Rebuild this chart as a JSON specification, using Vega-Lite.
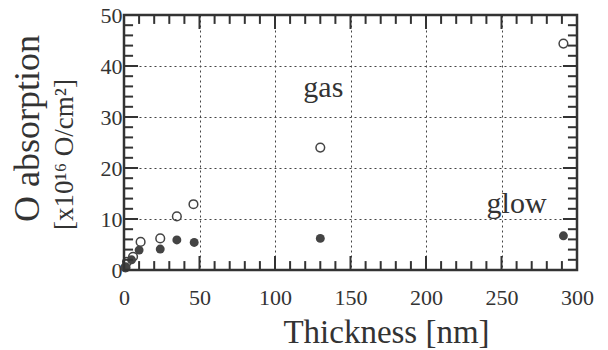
{
  "$schema": "https://vega.github.io/schema/vega-lite/v6.json",
  "width": 453,
  "height": 255,
  "autosize": "none",
  "padding": {"left": 124, "top": 15, "right": 31, "bottom": 80},
  "background": "white",
  "config": {
    "view": {"stroke": null},
    "font": "Liberation Serif",
    "axis": {
      "labelFont": "Liberation Serif",
      "titleFont": "Liberation Serif",
      "labelColor": "#333",
      "titleColor": "#333",
      "domain": false,
      "labelFlush": false,
      "labelOverlap": false,
      "titleFontWeight": "normal",
      "gridColor": "#444",
      "gridDash": [2, 3],
      "gridWidth": 1,
      "gridOpacity": 1
    }
  },
  "datasets": {
    "gas": [
      {"t": 1, "o": 0.5},
      {"t": 2, "o": 1.6},
      {"t": 6, "o": 2.6},
      {"t": 11, "o": 5.5},
      {"t": 24, "o": 6.2},
      {"t": 35, "o": 10.5},
      {"t": 46, "o": 12.9},
      {"t": 130, "o": 24.0},
      {"t": 291, "o": 44.4}
    ],
    "glow": [
      {"t": 1, "o": 0.5},
      {"t": 5, "o": 2.0},
      {"t": 10, "o": 3.9},
      {"t": 24, "o": 4.1},
      {"t": 35, "o": 5.9},
      {"t": 46.5, "o": 5.4},
      {"t": 130, "o": 6.2},
      {"t": 291, "o": 6.7}
    ],
    "labels": [
      {"t": 132, "o": 33.9, "label": "gas"},
      {"t": 260, "o": 11.2, "label": "glow"}
    ],
    "frame": [
      {"x1": 0, "x2": 300, "y1": 0, "y2": 50}
    ],
    "xmajor": [{"v": 0}, {"v": 50}, {"v": 100}, {"v": 150}, {"v": 200}, {"v": 250}, {"v": 300}],
    "xminor": [
      {"v": 10}, {"v": 20}, {"v": 30}, {"v": 40}, {"v": 60}, {"v": 70}, {"v": 80}, {"v": 90},
      {"v": 110}, {"v": 120}, {"v": 130}, {"v": 140}, {"v": 160}, {"v": 170}, {"v": 180}, {"v": 190},
      {"v": 210}, {"v": 220}, {"v": 230}, {"v": 240}, {"v": 260}, {"v": 270}, {"v": 280}, {"v": 290}
    ],
    "ymajor": [{"v": 0}, {"v": 10}, {"v": 20}, {"v": 30}, {"v": 40}, {"v": 50}],
    "yminor": [
      {"v": 2}, {"v": 4}, {"v": 6}, {"v": 8}, {"v": 12}, {"v": 14}, {"v": 16}, {"v": 18},
      {"v": 22}, {"v": 24}, {"v": 26}, {"v": 28}, {"v": 32}, {"v": 34}, {"v": 36}, {"v": 38},
      {"v": 42}, {"v": 44}, {"v": 46}, {"v": 48}
    ]
  },
  "resolve": {"axis": {"x": "independent", "y": "independent"}},
  "layer": [
    {
      "data": {"name": "gas"},
      "mark": {"type": "point", "shape": "circle", "filled": false, "stroke": "#444", "strokeWidth": 1.5, "size": 75, "opacity": 1},
      "encoding": {
        "x": {
          "field": "t", "type": "quantitative",
          "scale": {"domain": [0, 300], "nice": false, "zero": false},
          "axis": {
            "orient": "bottom",
            "values": [0, 50, 100, 150, 200, 250, 300],
            "ticks": false,
            "tickSize": 0,
            "labelFontSize": 22,
            "labelBaseline": "alphabetic",
            "labelPadding": 34,
            "grid": true,
            "title": "Thickness [nm]",
            "titleFontSize": 33,
            "titleX": 262,
            "titleY": 72,
            "titleAlign": "center",
            "titleBaseline": "alphabetic"
          }
        },
        "y": {
          "field": "o", "type": "quantitative",
          "scale": {"domain": [0, 50], "nice": false, "zero": false},
          "axis": {
            "orient": "left",
            "values": [0, 10, 20, 30, 40, 50],
            "ticks": false,
            "tickSize": 0,
            "labelFontSize": 22,
            "labelPadding": 2,
            "grid": true,
            "title": "O absorption",
            "titleFontSize": 36,
            "titleAngle": 270,
            "titleX": -97,
            "titleY": 113,
            "titleAlign": "center",
            "titleBaseline": "middle"
          }
        }
      }
    },
    {
      "data": {"name": "glow"},
      "mark": {"type": "point", "shape": "circle", "filled": true, "fill": "#444", "size": 80, "opacity": 1},
      "encoding": {
        "x": {"field": "t", "type": "quantitative", "axis": null},
        "y": {
          "field": "o", "type": "quantitative",
          "axis": {
            "orient": "left",
            "values": [0, 10, 20, 30, 40, 50],
            "ticks": false,
            "tickSize": 0,
            "labels": false,
            "grid": false,
            "title": "[x10¹⁶ O/cm²]",
            "titleFontSize": 27,
            "titleAngle": 270,
            "titleX": -60,
            "titleY": 139,
            "titleAlign": "center",
            "titleBaseline": "middle"
          }
        }
      }
    },
    {
      "data": {"name": "labels"},
      "mark": {"type": "text", "font": "Liberation Serif", "fontSize": 30, "fill": "#333", "align": "center", "baseline": "alphabetic"},
      "encoding": {
        "x": {"field": "t", "type": "quantitative", "axis": null},
        "y": {"field": "o", "type": "quantitative", "axis": null},
        "text": {"field": "label"}
      }
    },
    {
      "data": {"name": "frame"},
      "mark": {"type": "rect", "fill": null, "fillOpacity": 0, "stroke": "#333", "strokeWidth": 2.5},
      "encoding": {
        "x": {"field": "x1", "type": "quantitative", "axis": null},
        "x2": {"field": "x2"},
        "y": {"field": "y1", "type": "quantitative", "axis": null},
        "y2": {"field": "y2"}
      }
    },
    {
      "data": {"name": "xmajor"},
      "mark": {"type": "rule", "color": "#333", "strokeWidth": 2},
      "encoding": {
        "x": {"field": "v", "type": "quantitative", "axis": null},
        "y": {"datum": 0, "type": "quantitative", "axis": null},
        "y2": {"datum": 2.75}
      }
    },
    {
      "data": {"name": "xmajor"},
      "mark": {"type": "rule", "color": "#333", "strokeWidth": 2},
      "encoding": {
        "x": {"field": "v", "type": "quantitative", "axis": null},
        "y": {"datum": 50, "type": "quantitative", "axis": null},
        "y2": {"datum": 47.25}
      }
    },
    {
      "data": {"name": "xminor"},
      "mark": {"type": "rule", "color": "#333", "strokeWidth": 2},
      "encoding": {
        "x": {"field": "v", "type": "quantitative", "axis": null},
        "y": {"datum": 0, "type": "quantitative", "axis": null},
        "y2": {"datum": 1.75}
      }
    },
    {
      "data": {"name": "xminor"},
      "mark": {"type": "rule", "color": "#333", "strokeWidth": 2},
      "encoding": {
        "x": {"field": "v", "type": "quantitative", "axis": null},
        "y": {"datum": 50, "type": "quantitative", "axis": null},
        "y2": {"datum": 48.25}
      }
    },
    {
      "data": {"name": "ymajor"},
      "mark": {"type": "rule", "color": "#333", "strokeWidth": 2},
      "encoding": {
        "y": {"field": "v", "type": "quantitative", "axis": null},
        "x": {"datum": 0, "type": "quantitative", "axis": null},
        "x2": {"datum": 9.3}
      }
    },
    {
      "data": {"name": "ymajor"},
      "mark": {"type": "rule", "color": "#333", "strokeWidth": 2},
      "encoding": {
        "y": {"field": "v", "type": "quantitative", "axis": null},
        "x": {"datum": 300, "type": "quantitative", "axis": null},
        "x2": {"datum": 290.7}
      }
    },
    {
      "data": {"name": "yminor"},
      "mark": {"type": "rule", "color": "#333", "strokeWidth": 2},
      "encoding": {
        "y": {"field": "v", "type": "quantitative", "axis": null},
        "x": {"datum": 0, "type": "quantitative", "axis": null},
        "x2": {"datum": 6}
      }
    },
    {
      "data": {"name": "yminor"},
      "mark": {"type": "rule", "color": "#333", "strokeWidth": 2},
      "encoding": {
        "y": {"field": "v", "type": "quantitative", "axis": null},
        "x": {"datum": 300, "type": "quantitative", "axis": null},
        "x2": {"datum": 294}
      }
    }
  ]
}
